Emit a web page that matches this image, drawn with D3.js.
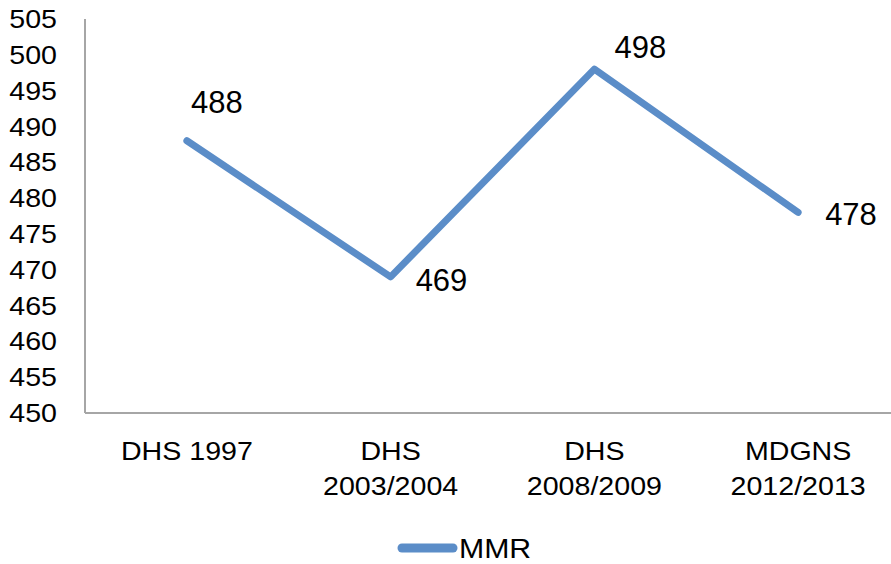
<!DOCTYPE html>
<html><head><meta charset="utf-8">
<script src="https://cdn.jsdelivr.net/npm/d3@7/dist/d3.min.js"></script>
<style>body{margin:0;background:#fff;} svg{display:block;} text{font-family:"Liberation Sans",Arial,sans-serif;fill:#000;}</style>
</head><body>
<svg id="c" width="891" height="564"></svg>
<script>
const categories = [["DHS 1997"], ["DHS", "2003/2004"], ["DHS", "2008/2009"], ["MDGNS", "2012/2013"]];
const mmr = [488, 469, 498, 478];
const yTicks = [450,455,460,465,470,475,480,485,490,495,500,505];
const seriesName = "MMR";
// label offsets [dx, dy] relative to point
const labelPos = [[30,-39],[25,3],[46,-22],[27,2]];
const labelAnchor = ["middle","start","middle","start"];

const svg = d3.select("#c");
const x = d3.scaleBand().domain(d3.range(categories.length)).range([85, 900]);
const y = d3.scaleLinear().domain([450, 505]).range([413, 19]);
const color = "#5b8dc8";
const sx = 1.1;

// axes
svg.append("line").attr("x1",85).attr("x2",85).attr("y1",y(505)).attr("y2",y(450)).attr("stroke","#a6a6a6").attr("stroke-width",2);
svg.append("line").attr("x1",85).attr("x2",900).attr("y1",y(450)).attr("y2",y(450)).attr("stroke","#a6a6a6").attr("stroke-width",2);

svg.selectAll(".yt").data(yTicks).enter().append("text")
  .attr("transform",d=>`translate(57,${y(d)}) scale(${sx},1)`)
  .attr("dy","0.35em").attr("text-anchor","end")
  .attr("font-size",26).text(d=>d);

const cx = i => x(i) + x.bandwidth()/2;
categories.forEach((lines,i)=>{
  lines.forEach((l,j)=>{
    svg.append("text").attr("text-anchor","middle").attr("font-size",26)
      .attr("transform",`translate(${cx(i)},${460 + j*35}) scale(${sx},1)`).text(l);
  });
});

const line = d3.line().x((d,i)=>cx(i)).y(d=>y(d));
svg.append("path").datum(mmr).attr("d",line).attr("fill","none")
  .attr("stroke",color).attr("stroke-width",7).attr("stroke-linecap","round").attr("stroke-linejoin","round");

svg.selectAll(".dl").data(mmr).enter().append("text")
  .attr("x",(d,i)=>cx(i)+labelPos[i][0]).attr("y",(d,i)=>y(d)+labelPos[i][1])
  .attr("dy","0.35em").attr("text-anchor",(d,i)=>labelAnchor[i])
  .attr("font-size",31).text(d=>d);

// legend
svg.append("line").attr("x1",402).attr("x2",453).attr("y1",548).attr("y2",548)
  .attr("stroke",color).attr("stroke-width",9).attr("stroke-linecap","round");
svg.append("text").attr("font-size",28)
  .attr("transform","translate(459,558) scale(1.08,1)").text(seriesName);
</script>
</body></html>
